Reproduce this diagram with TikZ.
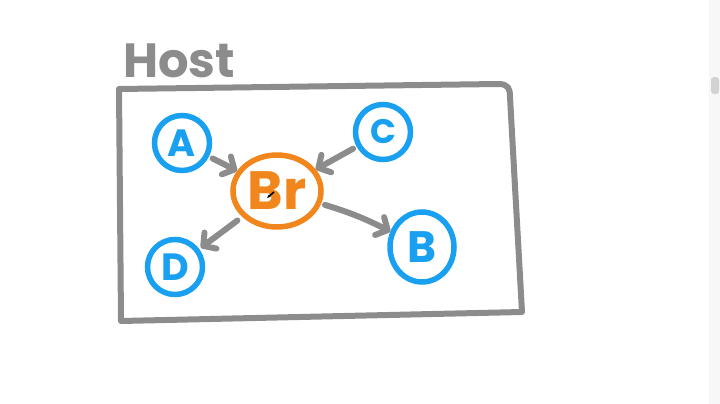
\documentclass[tikz,border=0pt]{standalone}
\usepackage{fontspec}
\setsansfont{Poppins}
\usetikzlibrary{shapes.geometric,arrows.meta}

\definecolor{penblue}{HTML}{1AA0F0}
\definecolor{penorange}{HTML}{F0861C}
\definecolor{pengray}{HTML}{8C8C8C}

\begin{document}
\begin{tikzpicture}[x=1pt,y=-1pt,font=\sffamily\bfseries]

% ---- Define Styles ----
\tikzset{
  hostbox/.style={
    draw=pengray, line width=6pt, line join=round, line cap=round
  },
  device/.style={
    draw=penblue, line width=5.5pt, text=penblue, circle, inner sep=0pt,
    minimum size=55pt, font=\sffamily\bfseries\fontsize{38}{40}\selectfont
  },
  bridge/.style={
    draw=penorange, line width=5.5pt, text=penorange, ellipse, inner sep=0pt,
    minimum width=88pt, minimum height=72pt,
    font=\sffamily\bfseries\fontsize{54}{56}\selectfont
  },
  link/.style={
    draw=pengray, line width=6pt, line cap=round,
    -{Straight Barb[length=9pt,width=20pt,round]}
  }
}

\useasboundingbox (0,0) rectangle (720,404);

% =========================================================
% SCROLL BAR (right edge)
% =========================================================
\fill[gray!6] (709,0) rectangle (720,404);
\fill[gray!35, rounded corners=3pt] (711,77) rectangle (719,94);

% =========================================================
% HOST FRAME AND TITLE
% =========================================================
\node[text=pengray, font=\sffamily\bfseries\fontsize{48}{50}\selectfont] (host) at (179,61) {Host};
\draw[hostbox] (119,89) -- (498,84) .. controls (508,84) and (510,88) .. (510,97)
  -- (522,312) -- (121,321) -- cycle;

% =========================================================
% BRIDGE AND DEVICES
% =========================================================
\node[bridge] (br) at (277,191) {Br};
\node[device] (a) at (182,143) {A};
\node[device, font=\sffamily\bfseries\fontsize{34}{36}\selectfont] (c) at (383,132) {C};
\node[device] (d) at (175,267) {D};
\node[device, ellipse, minimum width=64pt, minimum height=70pt,
      font=\sffamily\bfseries\fontsize{44}{46}\selectfont] (b) at (422,247) {B};

% mouse pointer left on the bridge
\coordinate (ptr) at (274,192);
\draw[black, line width=1.6pt, -{Stealth[length=4pt]}] (ptr) -- ++(-7,6);

% =========================================================
% CONNECTORS
% =========================================================
\draw[link, shorten <=4pt] (a) -- (br);
\draw[link, shorten <=4pt] (c) -- (br);
\draw[link, shorten <=6pt, shorten >=2pt] (br) -- (d);
\draw[link, shorten <=4pt] (br) to[bend left=5] (b);

\end{tikzpicture}
\end{document}
